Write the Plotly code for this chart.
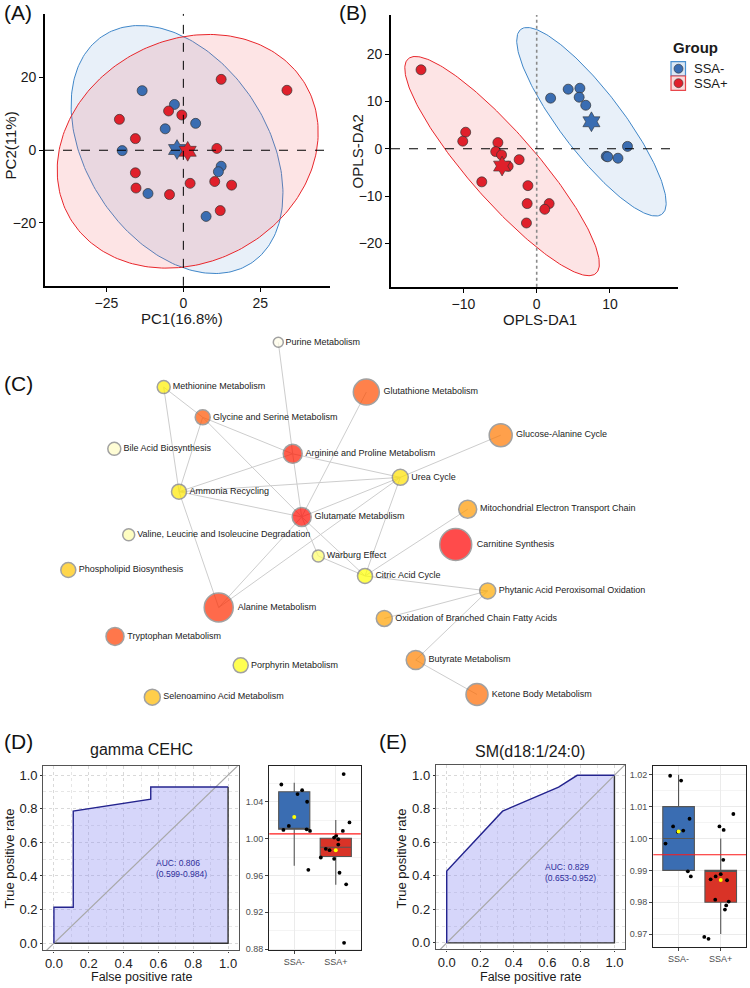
import numpy as np
import plotly.graph_objects as go

# ---------------- DATA ----------------
groups = ["SSA-", "SSA+"]

# (A) PCA scores
pca_neg_pc1 = [-13.4, -2.9, -5.9, 4.0, -19.9, -11.5, 12.3, 11.4, 7.4]
pca_neg_pc2 = [16.4, 12.6, 5.9, 7.4, -0.1, -11.9, -4.4, -5.9, -18.2]
pca_pos_pc1 = [12.3, 33.7, -20.8, -4.8, -0.5, -15.6, 10.9, -15.6, -15.4, -4.5, 2.2, 10.2, 15.7, 12.0]
pca_pos_pc2 = [19.5, 16.5, 8.5, 10.8, 9.7, 3.2, 0.5, -6.2, -10.4, -12.2, -9.1, -8.6, -9.6, -16.6]
pca_ticks_x = [-25, 0, 25]
pca_ticks_y = [-20, 0, 20]

# (B) OPLS-DA scores
opls_neg_t1 = [1.9, 4.3, 5.9, 5.8, 6.7, 12.4, 9.5, 9.7, 11.1]
opls_neg_t2 = [10.7, 12.6, 12.8, 10.9, 9.2, 0.5, -1.6, -1.7, -2.0]
opls_pos_t1 = [-15.8, -9.7, -10.1, -5.3, -5.6, -4.8, -3.9, -2.4, -7.5, -1.2, -1.3, 1.7, 1.1, -1.4]
opls_pos_t2 = [16.7, 3.5, 1.6, 1.3, -0.6, -1.3, -3.7, -2.3, -7.0, -7.8, -11.6, -11.6, -12.8, -15.7]
opls_ticks_x = [-10, 0, 10]
opls_ticks_y = [-20, -10, 0, 10, 20]

# (C) pathway network (layout coordinates, hit size, significance score)
node_names = ["Purine Metabolism", "Methionine Metabolism", "Glycine and Serine Metabolism",
              "Bile Acid Biosynthesis", "Arginine and Proline Metabolism", "Ammonia Recycling",
              "Glutamate Metabolism", "Valine, Leucine and Isoleucine Degradation", "Warburg Effect",
              "Phospholipid Biosynthesis", "Alanine Metabolism", "Citric Acid Cycle",
              "Glutathione Metabolism", "Glucose-Alanine Cycle", "Urea Cycle",
              "Mitochondrial Electron Transport Chain", "Carnitine Synthesis",
              "Phytanic Acid Peroxisomal Oxidation", "Oxidation of Branched Chain Fatty Acids",
              "Tryptophan Metabolism", "Porphyrin Metabolism", "Selenoamino Acid Metabolism",
              "Butyrate Metabolism", "Ketone Body Metabolism"]
node_x = [278.3, 163.7, 202.7, 114.3, 292.7, 179.0, 301.7, 128.7, 318.3, 68.3, 218.7, 365.0,
          366.3, 500.7, 400.3, 467.7, 455.7, 487.7, 384.3, 115.0, 240.7, 152.3, 415.7, 477.0]
node_y = [343.7, 388.7, 419.0, 450.7, 455.7, 493.7, 519.0, 537.0, 558.3, 572.3, 610.0, 578.3,
          393.7, 437.0, 479.3, 511.3, 546.7, 593.3, 621.0, 639.0, 668.0, 700.0, 662.7, 697.3]
node_hits = [10, 13, 15, 13, 19, 15, 19, 12, 12, 15, 29, 15, 26, 23, 16, 18, 32, 16, 16, 18, 15, 16, 19, 22]
node_sig = [0.01, 0.34, 0.77, 0.055, 0.93, 0.36, 0.97, 0.09, 0.17, 0.46, 0.88, 0.30,
            0.79, 0.67, 0.38, 0.58, 1.0, 0.53, 0.555, 0.83, 0.29, 0.49, 0.64, 0.71]
edges = [("Purine Metabolism", "Arginine and Proline Metabolism"),
         ("Methionine Metabolism", "Glycine and Serine Metabolism"),
         ("Methionine Metabolism", "Ammonia Recycling"),
         ("Glycine and Serine Metabolism", "Ammonia Recycling"),
         ("Glycine and Serine Metabolism", "Arginine and Proline Metabolism"),
         ("Glycine and Serine Metabolism", "Glutamate Metabolism"),
         ("Arginine and Proline Metabolism", "Ammonia Recycling"),
         ("Arginine and Proline Metabolism", "Glutamate Metabolism"),
         ("Arginine and Proline Metabolism", "Urea Cycle"),
         ("Ammonia Recycling", "Urea Cycle"),
         ("Ammonia Recycling", "Glutamate Metabolism"),
         ("Ammonia Recycling", "Alanine Metabolism"),
         ("Glutamate Metabolism", "Glutathione Metabolism"),
         ("Glutamate Metabolism", "Alanine Metabolism"),
         ("Glutamate Metabolism", "Warburg Effect"),
         ("Glutamate Metabolism", "Citric Acid Cycle"),
         ("Glutamate Metabolism", "Urea Cycle"),
         ("Alanine Metabolism", "Urea Cycle"),
         ("Warburg Effect", "Citric Acid Cycle"),
         ("Urea Cycle", "Citric Acid Cycle"),
         ("Urea Cycle", "Glucose-Alanine Cycle"),
         ("Citric Acid Cycle", "Mitochondrial Electron Transport Chain"),
         ("Citric Acid Cycle", "Phytanic Acid Peroxisomal Oxidation"),
         ("Phytanic Acid Peroxisomal Oxidation", "Oxidation of Branched Chain Fatty Acids"),
         ("Phytanic Acid Peroxisomal Oxidation", "Butyrate Metabolism"),
         ("Butyrate Metabolism", "Ketone Body Metabolism")]

# (D) gamma CEHC
d_title = "gamma CEHC"
d_fpr = [0.0, 0.0, 0.111, 0.111, 0.556, 0.556, 1.0]
d_tpr = [0.0, 0.214, 0.214, 0.786, 0.857, 0.929, 0.929]
d_auc, d_ci = 0.806, (0.599, 0.984)
d_q1 = [1.0101, 0.9805]
d_med = [1.0101, 0.9906]
d_q3 = [1.0508, 1.0004]
d_lo = [0.9705, 0.9500]
d_hi = [1.0605, 1.0202]
d_mean = [1.0234, 0.9874]
d_cut = 1.0051
d_neg_vals = [1.0587, 1.0483, 1.0526, 1.0400, 1.0137, 1.0094, 1.0101, 1.0083, 0.9661]
d_neg_jit = [-0.31, 0.08, 0.19, 0.31, -0.13, -0.26, 0.30, 0.38, 0.34]
d_pos_vals = [1.0700, 1.0176, 1.0083, 1.0032, 1.0011, 0.9993, 0.9935, 0.9889, 0.9874, 0.9795,
              0.9780, 0.9629, 0.9503, 0.8868]
d_pos_jit = [0.19, 0.33, 0.17, 0.01, -0.04, 0.06, 0.06, -0.24, -0.15, -0.36, -0.04, 0.09, 0.25, 0.20]
d_box_ticks = [0.88, 0.92, 0.96, 1.00, 1.04]

# (E) SM(d18:1/24:0)
e_title = "SM(d18:1/24:0)"
e_fpr = [0.0, 0.0, 0.333, 0.667, 0.778, 1.0]
e_tpr = [0.0, 0.429, 0.786, 0.929, 1.0, 1.0]
e_auc, e_ci = 0.829, (0.653, 0.952)
e_q1 = [0.990, 0.980]
e_med = [1.000, 0.990]
e_q3 = [1.010, 0.990]
e_lo = [0.990, 0.970]
e_hi = [1.020, 1.000]
e_mean = [1.0022, 0.9870]
e_cut = 0.9949
e_neg_vals = [1.0197, 1.0182, 1.0038, 1.0025, 1.0062, 0.9984, 0.9897, 0.9881, 1.0021]
e_neg_jit = [-0.20, 0.06, -0.13, 0.11, 0.26, -0.31, 0.22, 0.29, -0.02]
e_pos_vals = [1.0077, 1.0038, 1.0027, 0.9933, 0.9872, 0.9881, 0.9888, 0.9869, 0.9808, 0.9802,
              0.9790, 0.9777, 0.9691, 0.9685]
e_pos_jit = [0.30, -0.03, 0.07, 0.06, -0.24, -0.12, 0.00, 0.15, -0.13, 0.19, 0.13, 0.10, -0.39, -0.29]
e_box_ticks = [0.97, 0.98, 0.99, 1.00, 1.01, 1.02]

roc_ticks = [0.0, 0.2, 0.4, 0.6, 0.8, 1.0]

# ---------------- STYLE ----------------
FONT = "Liberation Sans, Arial, sans-serif"
W, H = 750, 988
BLUE = "#3A6DB2"
RED = "#E0202B"
BLUE_LINE = "#3F86C8"
RED_LINE = "#E8262B"
BLUE_FILL = "rgba(110,160,215,0.16)"
RED_FILL = "rgba(240,90,95,0.16)"
NAVY = "#24248E"


def px(xp):
    return xp / W


def py(yp):
    return 1 - yp / H


def ellipse(x, y, level=0.95, n=241):
    x = np.asarray(x, float)
    y = np.asarray(y, float)
    dfd = len(x) - 1
    fq = dfd / 2.0 * ((1 - level) ** (-2.0 / dfd) - 1)  # F(2, dfd) quantile
    r = np.sqrt(2 * fq)
    cov = np.cov(x, y)
    vals, vecs = np.linalg.eigh(cov)
    t = np.linspace(0, 2 * np.pi, n)
    circ = np.vstack([np.cos(t), np.sin(t)])
    pts = vecs @ (np.sqrt(vals)[:, None] * circ) * r
    return x.mean() + pts[0], y.mean() + pts[1]


fig = go.Figure()


def score_panel(xa, ya, nx, ny, prx, pry):
    for xs, ys, lc, fc in [(nx, ny, BLUE_LINE, BLUE_FILL), (prx, pry, RED_LINE, RED_FILL)]:
        ex, ey = ellipse(xs, ys)
        fig.add_trace(go.Scatter(x=ex, y=ey, mode="lines", fill="toself", fillcolor=fc,
                                 line=dict(color=lc, width=1), xaxis=xa, yaxis=ya,
                                 showlegend=False, hoverinfo="skip"))
    for xs, ys, c in [(nx, ny, BLUE), (prx, pry, RED)]:
        fig.add_trace(go.Scatter(x=xs, y=ys, mode="markers",
                                 marker=dict(size=10, color=c, line=dict(color="#333333", width=0.7)),
                                 xaxis=xa, yaxis=ya, showlegend=False))
    for xs, ys, c in [(nx, ny, BLUE), (prx, pry, RED)]:
        fig.add_trace(go.Scatter(x=[float(np.mean(xs))], y=[float(np.mean(ys))], mode="markers",
                                 marker=dict(symbol="hexagram", size=15, color=c,
                                             line=dict(color="#333333", width=0.6)),
                                 xaxis=xa, yaxis=ya, showlegend=False))


score_panel("x", "y", pca_neg_pc1, pca_neg_pc2, pca_pos_pc1, pca_pos_pc2)
score_panel("x2", "y2", opls_neg_t1, opls_neg_t2, opls_pos_t1, opls_pos_t2)

# ---- (C) network ----
idx = {n: i for i, n in enumerate(node_names)}
ex_, ey_ = [], []
for a, b in edges:
    ex_ += [node_x[idx[a]], node_x[idx[b]], None]
    ey_ += [node_y[idx[a]], node_y[idx[b]], None]
fig.add_trace(go.Scatter(x=ex_, y=ey_, mode="lines", line=dict(color="#CDCDCD", width=1),
                         xaxis="x3", yaxis="y3", showlegend=False, hoverinfo="skip"))
fig.add_trace(go.Scatter(x=node_x, y=node_y, mode="markers+text", text=node_names,
                         textposition="middle right",
                         textfont=dict(size=9, color="#222222", family=FONT),
                         marker=dict(size=node_hits, color=node_sig, cmin=0, cmax=1,
                                     colorscale=[[0, "#FFFDF0"], [0.3, "#FFFF00"], [1, "#FF0000"]],
                                     line=dict(color="#7A7A7A", width=1.5)),
                         cliponaxis=False, xaxis="x3", yaxis="y3", showlegend=False))


# ---- ROC panels ----
def roc_panel(xa, ya, fpr, tpr):
    fig.add_trace(go.Scatter(x=list(fpr) + [fpr[-1]], y=list(tpr) + [0.0], mode="lines",
                             fill="toself", fillcolor="rgba(140,140,240,0.36)",
                             line=dict(width=0), xaxis=xa, yaxis=ya, showlegend=False,
                             hoverinfo="skip"))
    fig.add_trace(go.Scatter(x=[fpr[-1], fpr[-1], fpr[0]], y=[tpr[-1], 0.0, 0.0], mode="lines",
                             line=dict(color="#333333", width=1.4), xaxis=xa, yaxis=ya,
                             showlegend=False, hoverinfo="skip"))
    fig.add_trace(go.Scatter(x=[-0.2, 1.2], y=[-0.2, 1.2], mode="lines",
                             line=dict(color="#A8A8A8", width=1.2), xaxis=xa, yaxis=ya,
                             showlegend=False, hoverinfo="skip"))
    fig.add_trace(go.Scatter(x=fpr, y=tpr, mode="lines", line=dict(color=NAVY, width=1.4),
                             xaxis=xa, yaxis=ya, showlegend=False))


roc_panel("x4", "y4", d_fpr, d_tpr)
roc_panel("x6", "y6", e_fpr, e_tpr)


# ---- box panels ----
def box_panel(xa, ya, q1, med, q3, lo, hi, mean, negv, negj, posv, posj):
    for i, col in enumerate([BLUE, "#D93327"]):
        fig.add_trace(go.Box(x=[i + 1], q1=[q1[i]], median=[med[i]], q3=[q3[i]],
                             lowerfence=[lo[i]], upperfence=[hi[i]], width=0.75,
                             fillcolor=col, line=dict(color="#555555", width=1.1),
                             whiskerwidth=0, boxpoints=False, xaxis=xa, yaxis=ya,
                             showlegend=False, hoverinfo="skip"))
    for i, (vals, jit) in enumerate([(negv, negj), (posv, posj)]):
        fig.add_trace(go.Scatter(x=[i + 1 + j for j in jit], y=vals, mode="markers",
                                 marker=dict(size=3.8, color="black"), xaxis=xa, yaxis=ya,
                                 showlegend=False))
    fig.add_trace(go.Scatter(x=[1, 2], y=mean, mode="markers",
                             marker=dict(size=4, color="#FFFF00"), xaxis=xa, yaxis=ya,
                             showlegend=False))


box_panel("x5", "y5", d_q1, d_med, d_q3, d_lo, d_hi, d_mean, d_neg_vals, d_neg_jit, d_pos_vals, d_pos_jit)
box_panel("x7", "y7", e_q1, e_med, e_q3, e_lo, e_hi, e_mean, e_neg_vals, e_neg_jit, e_pos_vals, e_pos_jit)

# ---------------- AXES ----------------
score_ax = dict(showline=True, linecolor="black", linewidth=1.6, ticks="outside", ticklen=4,
                tickwidth=1.2, tickcolor="black", showgrid=False, zeroline=False,
                tickfont=dict(size=14, color="#1A1A1A", family=FONT))
roc_ax = dict(showline=True, mirror=True, linecolor="#555555", linewidth=1.4, ticks="outside",
              ticklen=2, tickcolor="#333333", zeroline=False, showgrid=True, gridcolor="#D9D9D9",
              griddash="dot", gridwidth=1, tickvals=roc_ticks,
              ticktext=["%.1f" % v for v in roc_ticks],
              tickfont=dict(size=13, color="#222222", family=FONT),
              minor=dict(dtick=0.1, tick0=0, showgrid=True, gridcolor="#E6E6E6", griddash="dot"))
roc_xax = dict(roc_ax, ticklen=1)
box_ax = dict(showline=True, mirror=True, linecolor="#222222", linewidth=1.3, ticks="outside",
              ticklen=3, tickcolor="#444444", zeroline=False, showgrid=True, gridcolor="#EBEBEB",
              tickfont=dict(size=9, color="#4D4D4D", family=FONT))

fig.update_layout(
    width=W, height=H, margin=dict(l=0, r=0, t=0, b=0),
    paper_bgcolor="white", plot_bgcolor="white", font=dict(family=FONT),
    xaxis=dict(domain=[px(45), px(330)], range=[-45, 47.7], anchor="y", tickvals=pca_ticks_x, **score_ax),
    yaxis=dict(domain=[py(287), py(14)], range=[-37.3, 37.5], anchor="x", tickvals=pca_ticks_y, **score_ax),
    xaxis2=dict(domain=[px(391), px(678)], range=[-19.9, 19.3], anchor="y2", tickvals=opls_ticks_x, **score_ax),
    yaxis2=dict(domain=[py(288), py(15)], range=[-29.2, 28.3], anchor="x2", tickvals=opls_ticks_y, **score_ax),
    xaxis3=dict(domain=[0, 1], range=[0, 750], anchor="y3", visible=False),
    yaxis3=dict(domain=[py(712), py(330)], range=[712, 330], anchor="x3", visible=False),
    xaxis4=dict(domain=[px(43.3), px(238.7)], range=[-0.061, 1.061], anchor="y4", **roc_xax),
    yaxis4=dict(domain=[py(954.3), py(769.3)], range=[-0.043, 1.053], anchor="x4", **roc_ax),
    xaxis6=dict(domain=[px(436), px(625)], range=[-0.064, 1.063], anchor="y6", **roc_xax),
    yaxis6=dict(domain=[py(953.3), py(767.7)], range=[-0.039, 1.064], anchor="x6", **roc_ax),
    xaxis5=dict(domain=[px(269.3), px(360.7)], range=[0.4, 2.6], anchor="y5", tickvals=[1, 2],
                ticktext=groups, **box_ax),
    yaxis5=dict(domain=[py(954), py(769.3)], range=[0.8789, 1.0786], anchor="x5", tickvals=d_box_ticks,
                ticktext=["%.2f" % v for v in d_box_ticks],
                minor=dict(dtick=0.02, tick0=0.88, showgrid=True, gridcolor="#F4F4F4"), **box_ax),
    xaxis7=dict(domain=[px(653.3), px(746)], range=[0.4, 2.6], anchor="y7", tickvals=[1, 2],
                ticktext=groups, **box_ax),
    yaxis7=dict(domain=[py(951), py(769.3)], range=[0.9659, 1.0227], anchor="x7", tickvals=e_box_ticks,
                ticktext=["%.2f" % v for v in e_box_ticks],
                minor=dict(dtick=0.005, tick0=0.97, showgrid=True, gridcolor="#F4F4F4"), **box_ax),
)

# reference lines
shapes = [
    dict(type="line", xref="x", yref="y domain", x0=0, x1=0, y0=0, y1=1,
         line=dict(color="black", width=1, dash="dash")),
    dict(type="line", xref="x domain", yref="y", x0=0, x1=1, y0=0, y1=0,
         line=dict(color="black", width=1, dash="dash")),
    dict(type="line", xref="x2", yref="y2 domain", x0=0, x1=0, y0=0, y1=1,
         line=dict(color="#8A8A8A", width=1.6, dash="dot")),
    dict(type="line", xref="x2 domain", yref="y2", x0=0, x1=1, y0=0, y1=0,
         line=dict(color="black", width=1, dash="dash")),
    dict(type="line", xref="x5 domain", yref="y5", x0=0, x1=1, y0=d_cut, y1=d_cut,
         line=dict(color="#FF1A1A", width=1.2)),
    dict(type="line", xref="x7 domain", yref="y7", x0=0, x1=1, y0=e_cut, y1=e_cut,
         line=dict(color="#FF1A1A", width=1.2)),
]
# legend for (B)
for i, (c, lc, fc) in enumerate([(BLUE, "#4A90D0", "#DCE8F5"), (RED, "#E8474B", "#FADADB")]):
    yc = 69 + i * 14.5
    shapes.append(dict(type="rect", xref="paper", yref="paper", x0=px(671), x1=px(685.5),
                       y0=py(yc + 7.2), y1=py(yc - 7.2), line=dict(color=lc, width=1.2), fillcolor=fc))
    shapes.append(dict(type="circle", xref="paper", yref="paper", x0=px(674), x1=px(683),
                       y0=py(yc + 4.5), y1=py(yc - 4.5), line=dict(color="#333333", width=0.6),
                       fillcolor=c))
fig.update_layout(shapes=shapes)

ann = []


def text(x, y, s, size, angle=0, xanchor="center", bold=False, color="#1A1A1A"):
    ann.append(dict(x=px(x), y=py(y), xref="paper", yref="paper", text=("<b>%s</b>" % s) if bold else s,
                    showarrow=False, textangle=angle, xanchor=xanchor, yanchor="middle",
                    font=dict(size=size, color=color, family=FONT)))


for lab, x, y in [("(A)", 2, 13), ("(B)", 337, 13), ("(C)", 2, 385), ("(D)", 2, 745), ("(E)", 377, 745)]:
    text(x, y, lab, 21, xanchor="left", color="#111111")
text(10, 146, "PC2(11%)", 15, angle=-90)
text(182, 320, "PC1(16.8%)", 15)
text(357, 152, "OPLS-DA2", 15, angle=-90)
text(540, 321, "OPLS-DA1", 15)
text(671, 48, "Group", 15, xanchor="left", bold=True)
for i, g in enumerate(groups):
    text(692, 69 + i * 14.5, g, 13, xanchor="left")
text(141, 753, d_title, 16)
text(530, 755, e_title, 16)
text(10, 862, "True positive rate", 13, angle=-90)
text(141, 980.5, "False positive rate", 12.5)
text(402, 862, "True positive rate", 13, angle=-90)
text(530, 980.5, "False positive rate", 12.5)

for xa, ya, auc, ci, xx, yy in [("x4", "y4", d_auc, d_ci, 0.575, 0.446), ("x6", "y6", e_auc, e_ci, 0.576, 0.418)]:
    ann.append(dict(x=xx, y=yy, xref=xa, yref=ya, showarrow=False, xanchor="left", align="left",
                    text="AUC: %.3f<br>(%.3f-%.3f)" % (auc, ci[0], ci[1]),
                    font=dict(size=8.5, color="#2E2E9A", family=FONT)))
fig.update_layout(annotations=ann)

fig.write_html("out.html", config={"displayModeBar": False},
               post_script="document.body.style.margin='0';document.body.style.padding='0';")
